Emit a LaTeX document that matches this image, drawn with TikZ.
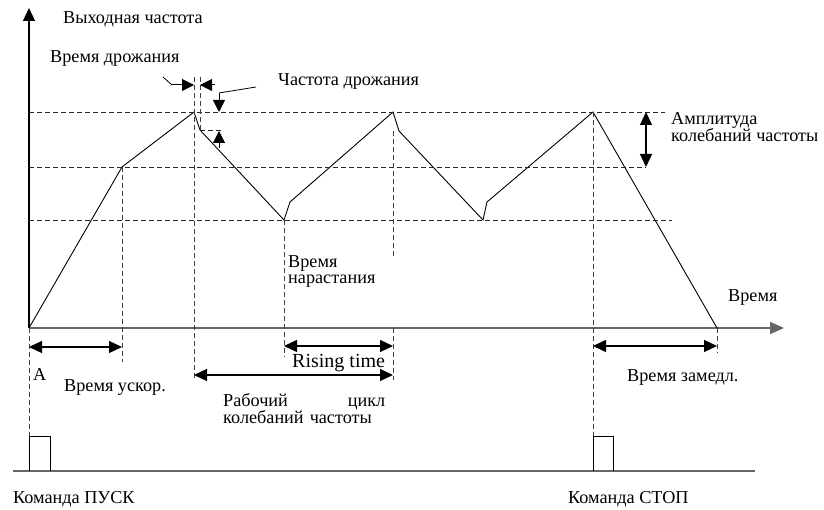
\documentclass[tikz,border=0pt]{standalone}
\usepackage{fontspec}
\setmainfont{Liberation Serif}
\usetikzlibrary{arrows.meta,positioning,calc}
\tikzset{
  axisline/.style={draw=gray!80!black, line width=1.7pt},
  guide/.style={draw=black!85, line width=0.8pt, dash pattern=on 5pt off 3pt},
  vguide/.style={guide, draw=gray!50!black, line width=1pt},
  wave/.style={line width=0.9pt},
  dimarrow/.style={{Triangle[length=13pt,width=12pt]}-{Triangle[length=13pt,width=12pt]}, line width=1.3pt},
  pointer/.style={-{Triangle[length=12pt,width=12pt]}, line width=1pt},
  txt/.style={font=\fontsize{18.2}{16.5}\selectfont, inner sep=0pt, anchor=base west, align=left},
  cmdbox/.style={draw, line width=0.9pt},
}
\newcommand{\dimline}[2]{\draw[dimarrow] (#1) -- (#2);}

\begin{document}
\begin{tikzpicture}[x=1pt, y=-1pt]

  \useasboundingbox (0,0) rectangle (824,510);

  % axes
  \coordinate (o)    at (29,328);
  \coordinate (ytop) at (29,8);
  \coordinate (xend) at (784,328);
  \draw[line width=1.1pt, -{Triangle[length=13pt,width=12pt]}] (o) -- (ytop);
  \draw[axisline, -{Triangle[length=14pt,width=12pt]}] (o) -- (xend);

  % waveform
  \coordinate (a1) at (122,167);
  \coordinate (p1) at (194,112);
  \coordinate (j1) at (200,130);
  \coordinate (v1) at (284,220);
  \coordinate (u1) at (290,202);
  \coordinate (p2) at (393,112);
  \coordinate (j2) at (399,131);
  \coordinate (v2) at (483,220);
  \coordinate (u2) at (487,202);
  \coordinate (p3) at (593,112);
  \coordinate (e)  at (717,328);
  \draw[wave] (o) -- (a1) -- (p1) -- (j1) -- (v1) -- (u1) -- (p2) -- (j2)
    -- (v2) -- (u2) -- (p3) -- (e);

  % levels
  \draw[guide] (29,112) -- (665,112);
  \draw[guide] (29,167) -- (646,167);
  \draw[guide] (29,220) -- (672,220);

  % time marks
  \draw[vguide] (o) -- (29,436);
  \draw[vguide] (a1) -- (122,362);
  \draw[vguide] (194,77) -- (194,380);
  \draw[vguide] (200,77) -- (j1);
  \draw[guide] (j1) -- (222,130);
  \draw[vguide] (v1) -- (284,357);
  \draw[vguide] (393,131) -- (393,258);
  \draw[vguide] (393,328) -- (393,380);
  \draw[vguide] (p3) -- (593,436);
  \draw[vguide] (e) -- (717,353);

  % jitter
  \draw[line width=0.8pt] (163,77) -- (172,85);
  \draw[pointer] (172,85) -- (194,85);
  \draw[pointer] (215,85) -- (200,85);
  \draw[line width=0.8pt] (256,87) -- (219,93);
  \draw[pointer] (219,93) -- (219,112);
  \draw[pointer] (219,148) -- (219,131);

  % spans
  \dimline{29,347}{122,347}
  \dimline{284,346}{393,346}
  \dimline{194,375}{393,375}
  \dimline{593,346}{717,346}
  \dimline{646,112}{646,167}

  % commands
  \draw[axisline] (13,471) -- (755,471);
  \draw[cmdbox] (29,471) |- (50,436) -- (50,471);
  \draw[cmdbox] (593,471) |- (613,436) -- (613,471);

  % labels
  \node[txt] (tout)  at (63,24)   {Выходная частота};
  \node[txt] (tjt)   at (50,63)   {Время дрожания};
  \node[txt] (tjf)   at (278,86)  {Частота дрожания};
  \node[txt] (tamp)  at (671,142) {Амплитуда\\колебаний частоты};
  \node[txt] (ttime) at (728,302) {Время};
  \node[txt] (trise) at (288,284) {Время\\нарастания};
  \node[txt, font=\fontsize{20}{20}\selectfont] (trisen) at (292,367) {Rising time};
  \node[txt] (ta)    at (33,380)  {A};
  \node[txt] (tacc)  at (64,391)  {Время ускор.};
  \node[txt, text width=162pt] (tcyc) at (223,406) {Рабочий\hfill цикл\\колебаний частоты};
  \node[txt] (tdec)  at (627,381) {Время замедл.};
  \node[txt] (tstart) at (13,503) {Команда ПУСК};
  \node[txt] (tstop) at (568,503) {Команда СТОП};

\end{tikzpicture}
\end{document}
